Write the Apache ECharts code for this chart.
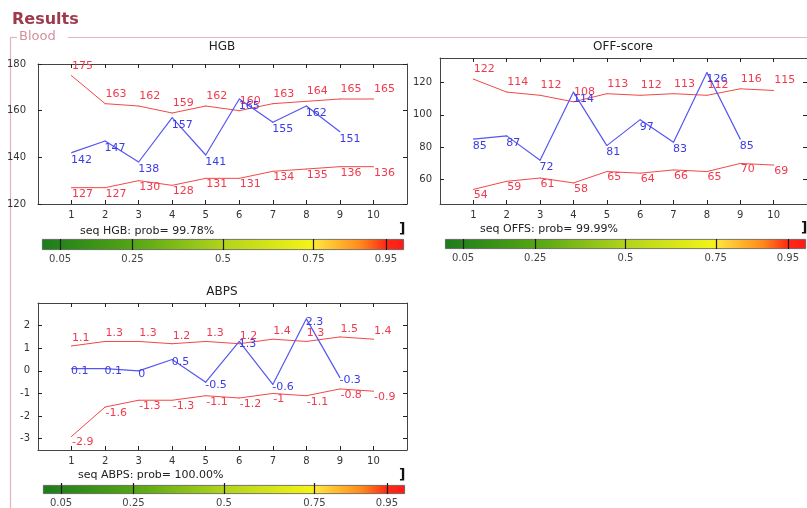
<!DOCTYPE html>
<html>
<head>
<meta charset="utf-8">
<script src="https://cdn.jsdelivr.net/npm/echarts@6/dist/echarts.min.js"></script>
<style>
html,body{margin:0;padding:0;background:#fff;}
#c{width:807px;height:508px;}
</style>
</head>
<body>
<div id="c"></div>
<script>
// ---- data ----
const xTicks = [1, 2, 3, 4, 5, 6, 7, 8, 9, 10];
const hgbUpper = [175, 163, 162, 159, 162, 160, 163, 164, 165, 165];
const hgbValue = [142, 147, 138, 157, 141, 165, 155, 162, 151];
const hgbLower = [127, 127, 130, 128, 131, 131, 134, 135, 136, 136];
const hgbYTicks = [120, 140, 160, 180];

const offUpper = [122, 114, 112, 108, 113, 112, 113, 112, 116, 115];
const offValue = [85, 87, 72, 114, 81, 97, 83, 126, 85];
const offLower = [54, 59, 61, 58, 65, 64, 66, 65, 70, 69];
const offYTicks = [60, 80, 100, 120];

const abpsUpper = [1.1, 1.3, 1.3, 1.2, 1.3, 1.2, 1.4, 1.3, 1.5, 1.4];
const abpsValue = [0.1, 0.1, 0, 0.5, -0.5, 1.3, -0.6, 2.3, -0.3];
const abpsLower = [-2.9, -1.6, -1.3, -1.3, -1.1, -1.2, -1, -1.1, -0.8, -0.9];
const abpsYTicks = [-3, -2, -1, 0, 1, 2];

const cbTicks = [0.05, 0.25, 0.5, 0.75, 0.95];

const titles = ['HGB', 'OFF-score', 'ABPS'];
const probTexts = ['seq HGB: prob= 99.78%', 'seq OFFS: prob= 99.99%', 'seq ABPS: prob= 100.00%'];

// ---- styling ----
const FONT = 'DejaVu Sans';
const RED = '#f24848';
const RED_T = '#f03a4e';
const BLUE = '#5656f2';
const BLUE_T = '#3c3ce6';
const AX = '#444';

const grids = [];
const xAxes = [];
const yAxes = [];
const series = [];

function toPairs(arr) { return arr.map((v, i) => [xTicks[i], v]); }

function addPlot(grid, ymin, ymax, yTicks, yMargin, upper, value, lower, upOff, blueOff) {
  const gi = grids.length;
  grids.push(grid);
  const xi = xAxes.length;
  const baseX = {
    gridIndex: gi, type: 'value', min: 0, max: 11,
    axisLine: { show: true, onZero: false, lineStyle: { color: AX, width: 1 } },
    axisTick: { show: true, inside: true, length: 4, customValues: xTicks, lineStyle: { color: '#222' } },
    splitLine: { show: false }
  };
  xAxes.push(Object.assign({}, baseX, {
    position: 'bottom',
    axisLabel: { customValues: xTicks, fontSize: 10, color: '#333', fontFamily: FONT, margin: 6 }
  }));
  xAxes.push(Object.assign({}, baseX, { position: 'top', axisLabel: { show: false } }));
  const yi = yAxes.length;
  const baseY = {
    gridIndex: gi, type: 'value', min: ymin, max: ymax,
    axisLine: { show: true, onZero: false, lineStyle: { color: AX, width: 1 } },
    axisTick: { show: true, inside: true, length: 4, customValues: yTicks, lineStyle: { color: '#222' } },
    splitLine: { show: false }
  };
  yAxes.push(Object.assign({}, baseY, {
    position: 'left',
    axisLabel: { customValues: yTicks, fontSize: 10, color: '#333', fontFamily: FONT, margin: yMargin }
  }));
  yAxes.push(Object.assign({}, baseY, { position: 'right', axisLabel: { show: false } }));

  const common = { type: 'line', xAxisIndex: xi, yAxisIndex: yi, symbol: 'circle', symbolSize: 1, animation: false };
  series.push(Object.assign({}, common, {
    data: toPairs(upper), lineStyle: { color: RED, width: 1 }, itemStyle: { color: RED },
    label: { show: true, position: [1, upOff], color: RED_T, fontSize: 11, fontFamily: FONT }
  }));
  series.push(Object.assign({}, common, {
    data: toPairs(lower), lineStyle: { color: RED, width: 1 }, itemStyle: { color: RED },
    label: { show: true, position: [1, 1], color: RED_T, fontSize: 11, fontFamily: FONT }
  }));
  series.push(Object.assign({}, common, {
    data: toPairs(value), lineStyle: { color: BLUE, width: 1.2 }, itemStyle: { color: BLUE },
    label: { show: true, position: [0, blueOff], color: BLUE_T, fontSize: 11, fontFamily: FONT }
  }));
}

function addColorbar(grid) {
  const gi = grids.length;
  grids.push(grid);
  const xi = xAxes.length;
  xAxes.push({
    gridIndex: gi, type: 'value', min: 0, max: 1, z: 10,
    axisLine: { show: false },
    axisTick: { show: true, inside: true, length: grid.height, customValues: cbTicks, lineStyle: { color: '#1a1a1a', width: 1.2 } },
    axisLabel: { customValues: cbTicks, fontSize: 10, color: '#444', fontFamily: FONT, margin: 4, formatter: v => String(v) },
    splitLine: { show: false }
  });
  const yi = yAxes.length;
  yAxes.push({ gridIndex: gi, type: 'category', data: [''], show: false });
  series.push({
    type: 'bar', xAxisIndex: xi, yAxisIndex: yi, data: [1], barWidth: '100%', animation: false, silent: true,
    itemStyle: {
      borderColor: '#555', borderWidth: 0.8,
      color: {
        type: 'linear', x: 0, y: 0, x2: 1, y2: 0,
        colorStops: [
          { offset: 0, color: '#1b7c1b' },
          { offset: 0.25, color: '#53a513' },
          { offset: 0.5, color: '#b2d31c' },
          { offset: 0.74, color: '#f3f317' },
          { offset: 0.76, color: '#ffe03c' },
          { offset: 0.88, color: '#ff8a1c' },
          { offset: 0.95, color: '#ff2a12' },
          { offset: 1, color: '#ff1a1a' }
        ]
      }
    }
  });
}

addPlot({ left: 38, top: 64, width: 369, height: 140 }, 120, 180, hgbYTicks, 12, hgbUpper, hgbValue, hgbLower, -15, 2);
addPlot({ left: 440, top: 58, width: 368, height: 146 }, 45, 135, offYTicks, 8, offUpper, offValue, offLower, -15, 2);
addPlot({ left: 38, top: 303, width: 369, height: 147 }, -3.5, 3, abpsYTicks, 8, abpsUpper, abpsValue, abpsLower, -13, -2);
addColorbar({ left: 42, top: 239, width: 362, height: 11 });
addColorbar({ left: 445, top: 239, width: 361, height: 10 });
addColorbar({ left: 43, top: 485, width: 362, height: 11 });

const txt = (x, y, text, size, color, extra) => Object.assign({
  type: 'text', x: x, y: y,
  style: Object.assign({ text: text, fontSize: size, fontFamily: FONT, fill: color, textVerticalAlign: 'middle' }, extra || {})
});
const LINE_C = '#e2b6c0';
const graphic = [
  txt(12, 20, 'Results', 16, '#9e3a4c', { fontWeight: 'bold' }),
  { type: 'line', shape: { x1: 10.5, y1: 37.5, x2: 10.5, y2: 508 }, style: { stroke: LINE_C, lineWidth: 1.2 } },
  { type: 'line', shape: { x1: 10, y1: 37.5, x2: 17, y2: 37.5 }, style: { stroke: LINE_C, lineWidth: 1.2 } },
  { type: 'line', shape: { x1: 68, y1: 37.5, x2: 807, y2: 37.5 }, style: { stroke: LINE_C, lineWidth: 1.2 } },
  txt(19, 37, 'Blood', 13, '#d4909e'),
  txt(222, 47, titles[0], 12, '#222', { textAlign: 'center' }),
  txt(623, 47, titles[1], 12, '#222', { textAlign: 'center' }),
  txt(222, 292, titles[2], 12, '#222', { textAlign: 'center' }),
  txt(80, 231, probTexts[0], 11, '#222'),
  txt(480, 229, probTexts[1], 11, '#222'),
  txt(78, 475, probTexts[2], 11, '#222'),
  txt(399, 229, ']', 14, '#111', { fontWeight: 'bold' }),
  txt(801, 228, ']', 14, '#111', { fontWeight: 'bold' }),
  txt(399, 475, ']', 14, '#111', { fontWeight: 'bold' })
];

const chart = echarts.init(document.getElementById('c'), null, { renderer: 'canvas' });
chart.setOption({
  animation: false,
  backgroundColor: '#fff',
  grid: grids,
  xAxis: xAxes,
  yAxis: yAxes,
  series: series,
  graphic: graphic
});
</script>
</body>
</html>
